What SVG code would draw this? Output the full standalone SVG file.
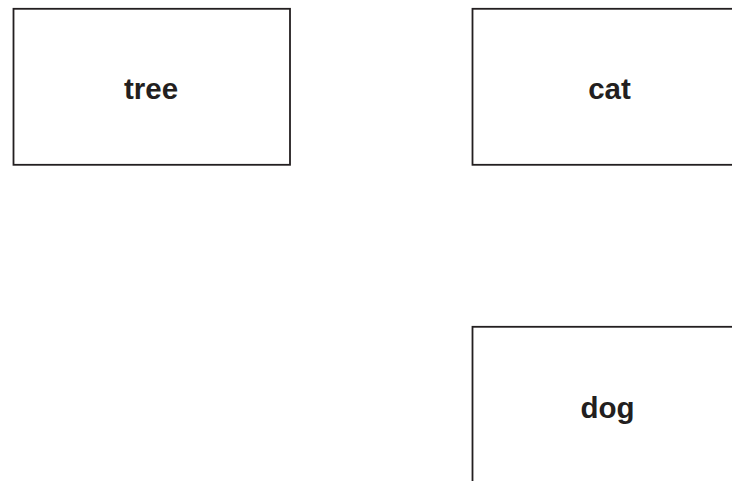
<svg xmlns="http://www.w3.org/2000/svg" width="732" height="481" viewBox="0 0 732 481">
<style>
.box{fill:#fff;stroke:#231f20;stroke-width:1.8}
.lbl{font-family:"Liberation Sans",Arial,Helvetica,sans-serif;font-weight:bold;font-size:29.5px;fill:#231f20;text-anchor:middle}
</style>
<rect width="732" height="481" fill="#fff"/>
<g id="connectors"></g>
<g id="tree">
<rect class="box" x="13.5" y="8.8" width="276.5" height="156"/>
<text class="lbl" x="151" y="99.3">tree</text>
</g>
<g id="cat">
<rect class="box" x="472.5" y="8.8" width="276.5" height="156"/>
<text class="lbl" x="609.5" y="99.3">cat</text>
</g>
<g id="dog">
<rect class="box" x="472.5" y="326.8" width="276.5" height="156"/>
<text class="lbl" x="607.5" y="418">dog</text>
</g>
</svg>
